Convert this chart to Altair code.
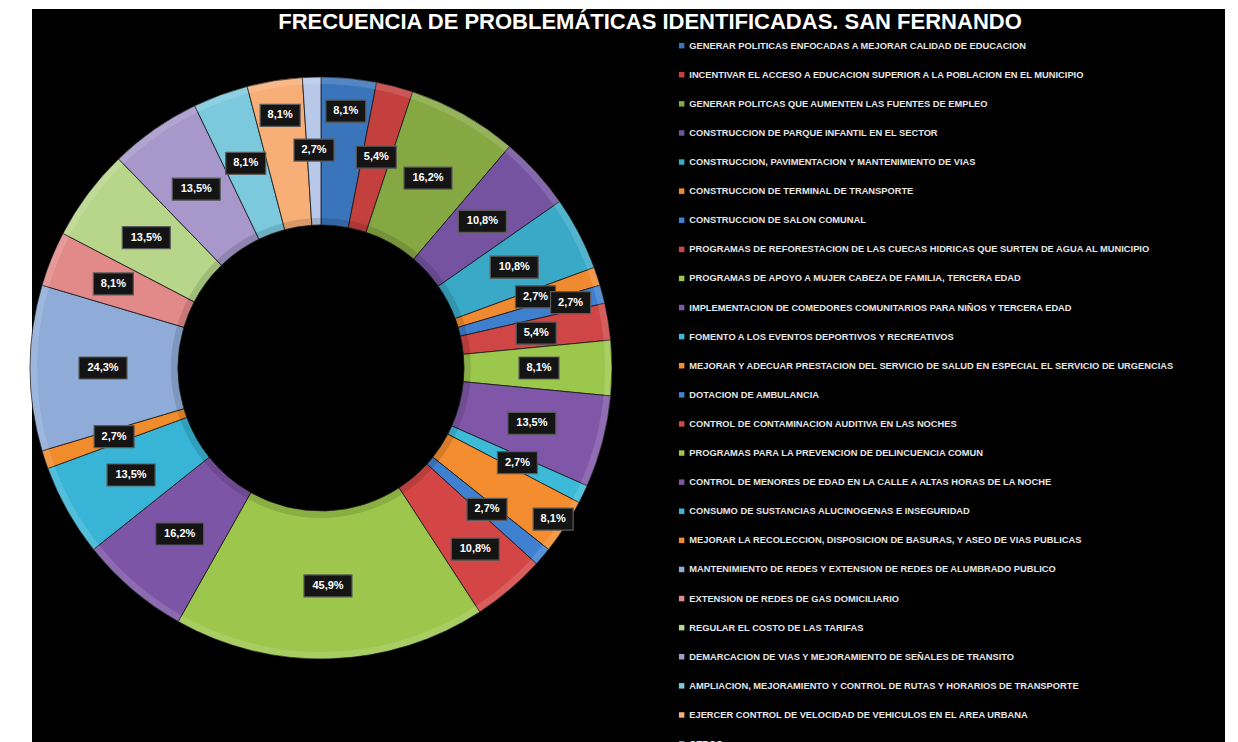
import altair as alt
import pandas as pd

title_text = "FRECUENCIA DE PROBLEMÁTICAS IDENTIFICADAS.  SAN FERNANDO"

categories = [
    "GENERAR POLITICAS ENFOCADAS A MEJORAR CALIDAD DE EDUCACION",
    "INCENTIVAR EL ACCESO A EDUCACION SUPERIOR A LA POBLACION EN EL MUNICIPIO",
    "GENERAR POLITCAS QUE AUMENTEN LAS FUENTES DE EMPLEO",
    "CONSTRUCCION DE PARQUE INFANTIL EN EL SECTOR",
    "CONSTRUCCION, PAVIMENTACION Y MANTENIMIENTO DE VIAS",
    "CONSTRUCCION DE TERMINAL DE TRANSPORTE",
    "CONSTRUCCION DE SALON COMUNAL",
    "PROGRAMAS DE REFORESTACION DE LAS CUECAS HIDRICAS QUE SURTEN DE AGUA AL MUNICIPIO",
    "PROGRAMAS DE APOYO A MUJER CABEZA DE FAMILIA, TERCERA EDAD",
    "IMPLEMENTACION DE COMEDORES COMUNITARIOS PARA NIÑOS Y TERCERA EDAD",
    "FOMENTO A LOS EVENTOS DEPORTIVOS Y RECREATIVOS",
    "MEJORAR Y ADECUAR PRESTACION DEL SERVICIO DE SALUD EN ESPECIAL EL SERVICIO DE URGENCIAS",
    "DOTACION DE AMBULANCIA",
    "CONTROL DE CONTAMINACION AUDITIVA EN LAS NOCHES",
    "PROGRAMAS PARA LA PREVENCION DE DELINCUENCIA COMUN",
    "CONTROL DE MENORES DE EDAD EN LA CALLE A ALTAS HORAS DE LA NOCHE",
    "CONSUMO DE SUSTANCIAS ALUCINOGENAS E INSEGURIDAD",
    "MEJORAR LA RECOLECCION, DISPOSICION DE BASURAS, Y ASEO DE VIAS PUBLICAS",
    "MANTENIMIENTO DE REDES Y EXTENSION DE REDES DE ALUMBRADO PUBLICO",
    "EXTENSION DE REDES DE GAS DOMICILIARIO",
    "REGULAR EL COSTO DE LAS TARIFAS",
    "DEMARCACION DE VIAS Y MEJORAMIENTO DE SEÑALES DE TRANSITO",
    "AMPLIACION, MEJORAMIENTO Y CONTROL DE RUTAS Y HORARIOS DE TRANSPORTE",
    "EJERCER CONTROL DE VELOCIDAD DE VEHICULOS EN EL AREA URBANA",
    "OTROS",
]

pct = [8.1, 5.4, 16.2, 10.8, 10.8, 2.7, 2.7, 5.4, 8.1, 13.5, 2.7, 8.1, 2.7,
       10.8, 45.9, 16.2, 13.5, 2.7, 24.3, 8.1, 13.5, 13.5, 8.1, 8.1, 2.7]

colors = [
    "#3A75BB", "#C4403E", "#86A843", "#7553A0", "#3AA9C8", "#F08A30",
    "#3F7FCF", "#D04545", "#9CC74D", "#8057A8", "#3DBAD8", "#F38D2F",
    "#3F80D0", "#D44646", "#9CC74C", "#7D55A6", "#38B5D6", "#F18C2D",
    "#8FACD8", "#E28A89", "#B7D68A", "#A797CA", "#7CC9DE", "#F8AE77",
    "#B7C8E8",
]

# radial nudges of the data labels (best-fit placement of the original)
label_push = [40, 0, 0, 0, 0, 8, 40, 0, 0, 0, 0, 59, 0, 20, 0, 0, 0, 0, 0, 6,
              0, 0, 0, 38, 0]

df = pd.DataFrame({
    "idx": list(range(len(categories))),
    "cat": categories,
    "pct": pct,
    "push": label_push,
})
df["label"] = [f"{v:.1f}".replace(".", ",") + "%" for v in pct]

CX, CY = 289, 359
R_OUT, R_IN, R_LAB = 291, 143, 218

base = alt.Chart(df)

arcs = base.mark_arc(outerRadius=R_OUT, innerRadius=R_IN, stroke="#1a1a1a",
                     strokeWidth=0.8).encode(
    theta=alt.Theta("pct:Q", stack=True),
    order=alt.Order("idx:Q"),
    color=alt.Color(
        "cat:N",
        scale=alt.Scale(domain=categories, range=colors),
        sort=categories,
        legend=alt.Legend(
            orient="none", legendX=645, legendY=32, direction="vertical",
            title=None, symbolType="square", symbolSize=30,
            symbolStrokeWidth=0, labelFontSize=9.3, labelColor="#e6e6e6",
            labelFont="Liberation Sans", labelFontWeight="bold",
            rowPadding=19.1, labelLimit=900, symbolLimit=60, labelOffset=3,
            padding=0,
        ),
    ),
    x=alt.value(CX),
    y=alt.value(CY),
)

# bevel-like rims
rim_out = base.mark_arc(outerRadius=R_OUT, innerRadius=R_OUT - 7,
                        color="white", opacity=0.13).encode(
    theta=alt.Theta("pct:Q", stack=True),
    order=alt.Order("idx:Q"),
    x=alt.value(CX),
    y=alt.value(CY),
)
rim_in = base.mark_arc(outerRadius=R_IN + 7, innerRadius=R_IN,
                       color="black", opacity=0.12).encode(
    theta=alt.Theta("pct:Q", stack=True),
    order=alt.Order("idx:Q"),
    x=alt.value(CX),
    y=alt.value(CY),
)

lab = base.transform_window(
    cum="sum(pct)", sort=[alt.SortField("idx")], frame=[None, 0]
).transform_joinaggregate(
    total="sum(pct)"
).transform_calculate(
    mid="(datum.cum - datum.pct / 2) / datum.total * 2 * PI",
    r=f"{R_LAB} + datum.push",
    px=f"{CX} + datum.r * sin(datum.mid)",
    py=f"{CY} - datum.r * cos(datum.mid)",
    w="length(datum.label) > 4 ? 48 : 40",
    x0="datum.px - datum.w / 2",
    x1="datum.px + datum.w / 2",
    y0="datum.py - 11",
    y1="datum.py + 11",
)

boxes = lab.mark_rect(fill="#141414", stroke="#5a5a5a", strokeWidth=1.2).encode(
    x=alt.X("x0:Q", scale=None),
    x2="x1:Q",
    y=alt.Y("y0:Q", scale=None),
    y2="y1:Q",
)

texts = lab.mark_text(color="white", font="Liberation Sans", fontWeight="bold",
                      fontSize=11, baseline="middle", align="center").encode(
    x=alt.X("px:Q", scale=None),
    y=alt.Y("py:Q", scale=None),
    text="label:N",
)

title = alt.Chart(pd.DataFrame({"t": [title_text]})).mark_text(
    color="white", font="Liberation Sans", fontWeight="bold",
    fontSize=22, baseline="middle", align="center",
).encode(x=alt.value(618), y=alt.value(13), text="t:N")

chart = alt.layer(arcs, rim_out, rim_in, boxes, texts, title).properties(
    width=1193, height=733,
    autosize=alt.AutoSizeParams(type="none"),
    padding={"left": 24, "top": 1, "right": 0, "bottom": 0},
    background="white",
).configure_view(fill="black", stroke=None)

chart.save("out.html", embed_options={"renderer": "svg", "actions": False})
